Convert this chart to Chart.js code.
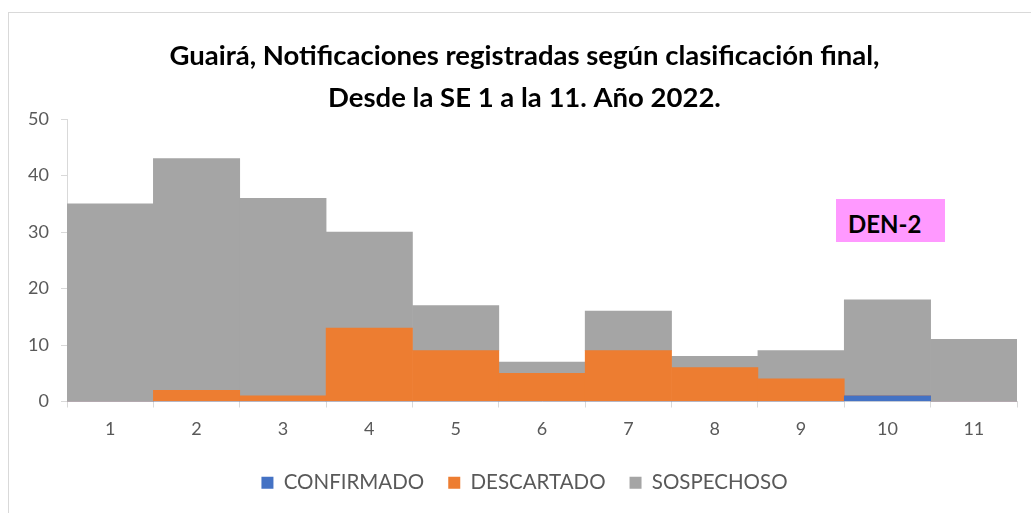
<!DOCTYPE html>
<html>
<head>
<meta charset="utf-8">
<script src="https://cdn.jsdelivr.net/npm/chart.js@4/dist/chart.umd.min.js"></script>
<style>
  body { margin: 0; overflow: hidden; background: #fff; }
  #frame { position: absolute; left: 8px; top: 12px; width: 1100px; height: 600px; border: 1px solid #d9d9d9; }
  #wrap { position: absolute; left: 0; top: 0; width: 1031px; height: 513px; }
  #den { position: absolute; left: 836px; top: 199px; width: 109px; height: 43px; background: #ff99ff;
         font: bold 24px Lato, sans-serif; color: #000; line-height: 37px; box-sizing: border-box;
         padding-left: 12px; padding-top: 6px; }
</style>
</head>
<body>
<div id="frame"></div>
<div id="wrap"><canvas id="chart" width="1031" height="513"></canvas></div>
<div id="den">DEN-2</div>
<script>
const semanas = ["1", "2", "3", "4", "5", "6", "7", "8", "9", "10", "11"];
const confirmado = [0, 0, 0, 0, 0, 0, 0, 0, 0, 1, 0];
const descartado = [0, 2, 1, 13, 9, 5, 9, 6, 4, 0, 0];
const sospechoso = [35, 41, 35, 17, 8, 2, 7, 2, 5, 17, 11];

const tickColor = "#595959";
const axisColor = "#d9d9d9";

let ctx = document.getElementById("chart").getContext("2d");
var chart = new Chart(ctx, {
    type: "bar",
    data: {
        labels: semanas,
        datasets: [
            { label: "CONFIRMADO", data: confirmado, backgroundColor: "#4472c4" },
            { label: "DESCARTADO", data: descartado, backgroundColor: "#ed7d31" },
            { label: "SOSPECHOSO", data: sospechoso, backgroundColor: "#a5a5a5" }
        ]
    },
    options: {
        responsive: false,
        animation: false,
        categoryPercentage: 1,
        barPercentage: 1,
        layout: { padding: { left: 18, right: 0, top: 0, bottom: 10 } },
        plugins: {
            title: {
                display: true,
                text: ["Guairá, Notificaciones registradas según clasificación final,", "Desde la SE 1 a la 11. Año 2022."],
                color: "#000",
                font: { family: "Lato", size: 27.5, weight: "bold", lineHeight: 1.53 },
                padding: { top: 35, bottom: 0 }
            },
            legend: {
                position: "bottom",
                labels: {
                    boxWidth: 12,
                    boxHeight: 12,
                    padding: 24,
                    color: tickColor,
                    font: { family: "Lato", size: 20.5 }
                }
            },
            tooltip: { enabled: false }
        },
        scales: {
            x: {
                stacked: true,
                grid: { offset: true, drawOnChartArea: false, color: axisColor, tickLength: 6 },
                border: { color: axisColor },
                ticks: { color: tickColor, padding: 11, font: { family: "Lato", size: 18 } },
                afterFit: function (scale) { scale.height = 47; }
            },
            y: {
                stacked: true,
                min: 0,
                max: 50,
                ticks: { stepSize: 10, color: tickColor, padding: 12, font: { family: "Lato", size: 18 } },
                grid: { drawOnChartArea: false, color: axisColor, tickLength: 6 },
                border: { color: axisColor },
                afterFit: function (scale) { scale.width = 49; }
            },
            yRight: {
                position: "right",
                min: 0,
                max: 50,
                ticks: { display: false },
                grid: { display: false },
                border: { display: false },
                afterFit: function (scale) { scale.width = 14; }
            }
        }
    }
});
</script>
</body>
</html>
